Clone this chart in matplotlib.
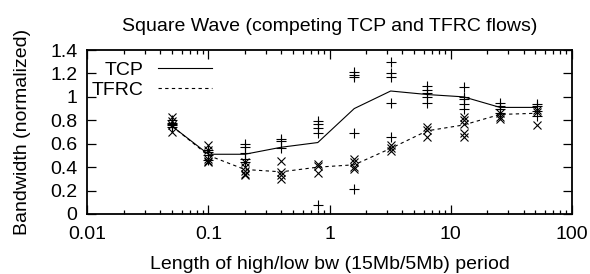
import numpy as np
import matplotlib.pyplot as plt
from matplotlib.ticker import FixedLocator, LogLocator, NullFormatter

plt.rcParams['font.family'] = ['Liberation Sans', 'DejaVu Sans']

# period lengths (x)
periods = [0.05, 0.1, 0.2, 0.4, 0.8, 1.6, 3.2, 6.4, 12.8, 25.6, 51.2]

# mean bandwidth lines
tcp_mean = [0.75, 0.51, 0.51, 0.57, 0.61, 0.90, 1.05, 1.02, 1.00, 0.91, 0.91]
tfrc_mean = [0.75, 0.50, 0.38, 0.36, 0.40, 0.42, 0.56, 0.71, 0.76, 0.85, 0.86]

# individual runs
tcp_runs = [
    [0.80, 0.78, 0.77, 0.76, 0.74],
    [0.55, 0.53, 0.50, 0.46],
    [0.60, 0.57, 0.52, 0.47, 0.44],
    [0.64, 0.62, 0.56],
    [0.79, 0.77, 0.73, 0.69, 0.08],
    [1.21, 1.19, 1.17, 0.69, 0.21],
    [1.30, 1.20, 1.17, 0.95, 0.66],
    [1.09, 1.06, 1.03, 1.00, 0.95],
    [1.08, 1.00, 0.98, 0.94, 0.90],
    [0.95, 0.92, 0.90, 0.86],
    [0.94, 0.92, 0.88, 0.84],
]
tfrc_runs = [
    [0.83, 0.79, 0.76, 0.70],
    [0.59, 0.55, 0.47, 0.45, 0.44],
    [0.44, 0.40, 0.37, 0.34, 0.33],
    [0.45, 0.36, 0.33, 0.30],
    [0.43, 0.41, 0.35],
    [0.47, 0.44, 0.40, 0.38],
    [0.59, 0.56, 0.54],
    [0.74, 0.72, 0.66],
    [0.83, 0.80, 0.77, 0.69, 0.66],
    [0.86, 0.83, 0.81],
    [0.89, 0.87, 0.76],
]

fs = 14

fig = plt.figure(figsize=(5.9, 2.74), dpi=100)
ax = fig.add_axes([0.148, 0.219, 0.821, 0.5985])

for x, ys in zip(periods, tcp_runs):
    ax.plot([x] * len(ys), ys, linestyle='none', marker='+', color='black',
            markersize=6.5, markeredgewidth=0.8)
for x, ys in zip(periods, tfrc_runs):
    ax.plot([x] * len(ys), ys, linestyle='none', marker='x', color='black',
            markersize=5.5, markeredgewidth=0.8)

ax.plot(periods, tcp_mean, color='black', linewidth=0.8, label='TCP')
ax.plot(periods, tfrc_mean, color='black', linewidth=0.8, linestyle=(0, (3, 3)),
        label='TFRC')

ax.set_xscale('log')
ax.set_xlim(0.01, 100)
ax.set_ylim(0, 1.4)
ax.xaxis.set_major_locator(FixedLocator([0.01, 0.1, 1, 10, 100]))
ax.set_xticklabels(['0.01', '0.1', '1', '10', '100'])
ax.xaxis.set_minor_locator(LogLocator(base=10, subs=np.arange(2, 10)))
ax.xaxis.set_minor_formatter(NullFormatter())
yt = [0, 0.2, 0.4, 0.6, 0.8, 1.0, 1.2, 1.4]
ax.set_yticks(yt)
ax.set_yticklabels(['0', '0.2', '0.4', '0.6', '0.8', '1', '1.2', '1.4'])
ax.tick_params(which='both', direction='in', top=True, right=True, labelsize=fs)
ax.tick_params(which='major', length=6.5, width=0.9)
ax.tick_params(axis='x', which='major', pad=9)
ax.tick_params(axis='y', which='major', pad=7)
ax.tick_params(which='minor', length=3, width=0.9)
for s in ax.spines.values():
    s.set_linewidth(1.3)

ax.set_title('Square Wave (competing TCP and TFRC flows)', fontsize=fs, pad=14)
ax.set_xlabel('Length of high/low bw (15Mb/5Mb) period', fontsize=fs, labelpad=9)
ax.set_ylabel('Bandwidth (normalized)', fontsize=fs, labelpad=14)

ax.legend(loc='upper right', frameon=False, markerfirst=False, fontsize=fs,
          handlelength=2.8, handletextpad=0.75, labelspacing=0.1,
          borderaxespad=0, borderpad=0, bbox_to_anchor=(0.258, 0.93))

fig.savefig('out.png', dpi=100)
